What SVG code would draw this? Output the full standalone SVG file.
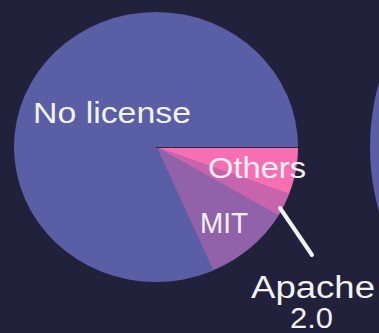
<svg xmlns="http://www.w3.org/2000/svg" width="379" height="333" viewBox="0 0 379 333">
<style>
.lbl{font-family:"Liberation Sans",Arial,sans-serif;fill:#f2f2f4;font-size:29px}
</style>
<rect width="379" height="333" fill="#22213b"/>
<circle id="next-pie" cx="606" cy="147" r="236" fill="#5a5ea5"/>
<g id="pie">
<g id="no-license">
<ellipse cx="156" cy="147" rx="142" ry="135" fill="#5a5ea5"/>
</g>
<g id="others">
<path d="M157,147.5 L298,147.5 A142 135 0 0 1 289,194 Z" fill="#f56fb2"/>
</g>
<g id="apache">
<path d="M157,147.5 L289,194 A142 135 0 0 1 278.5,215.5 Z" fill="#c863ad"/>
</g>
<g id="mit">
<path d="M157,147.5 L278.5,215.5 A142 135 0 0 1 213,269.5 Z" fill="#9162a9"/>
</g>
<line x1="156" y1="147.5" x2="298" y2="147.5" stroke="#2a2540" stroke-width="1.2"/>
</g>
<g id="connectors">
<line x1="280" y1="208" x2="312" y2="255" stroke="#f2f2f4" stroke-width="4" stroke-linecap="round"/>
</g>
<text class="lbl" x="33" y="123" textLength="158" lengthAdjust="spacingAndGlyphs">No license</text>
<text class="lbl" x="208" y="178" textLength="98" lengthAdjust="spacingAndGlyphs">Others</text>
<text class="lbl" x="200" y="233" textLength="48" lengthAdjust="spacingAndGlyphs">MIT</text>
<text class="lbl" x="251" y="298" textLength="124" lengthAdjust="spacingAndGlyphs" style="font-size:31px">Apache</text>
<text class="lbl" x="290" y="328" textLength="43" lengthAdjust="spacingAndGlyphs">2.0</text>
</svg>
